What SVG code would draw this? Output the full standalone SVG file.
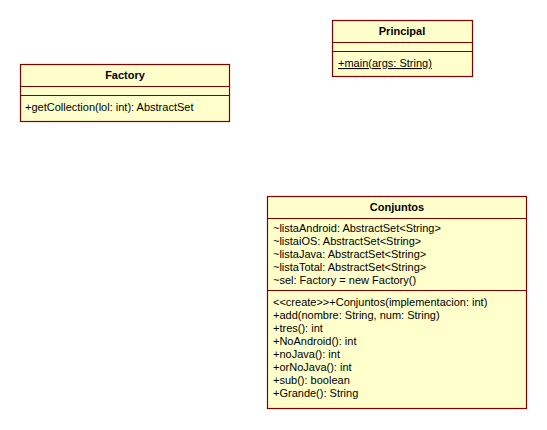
<svg xmlns="http://www.w3.org/2000/svg" width="547" height="430" viewBox="0 0 547 430">
  <style>
    .box { fill: #FFFFCC; stroke: #800000; stroke-width: 1.2; }
    .sep { stroke: #800000; stroke-width: 1.2; }
    .name { font-family: "Liberation Sans", Arial, sans-serif; font-size: 11px; font-weight: bold; fill: #000; text-anchor: middle; }
    .member { font-family: "Liberation Sans", Arial, sans-serif; font-size: 11px; fill: #000; }
    .static { text-decoration: underline; }
  </style>
  <rect width="547" height="430" fill="#FFFFFF"/>

  <g id="Factory">
    <rect class="box" x="20.5" y="64.5" width="209" height="57"/>
    <line class="sep" x1="20.5" y1="86.5" x2="229.5" y2="86.5"/>
    <line class="sep" x1="20.5" y1="95.5" x2="229.5" y2="95.5"/>
    <text class="name" x="125" y="79">Factory</text>
    <text class="member" x="25" y="111">+getCollection(lol: int): AbstractSet</text>
  </g>

  <g id="Principal">
    <rect class="box" x="332.5" y="20.5" width="140" height="56"/>
    <line class="sep" x1="332.5" y1="42.5" x2="472.5" y2="42.5"/>
    <line class="sep" x1="332.5" y1="51.5" x2="472.5" y2="51.5"/>
    <text class="name" x="402" y="35">Principal</text>
    <text class="member static" x="338" y="67">+main(args: String)</text>
  </g>

  <g id="Conjuntos">
    <rect class="box" x="267.5" y="196.5" width="259" height="212"/>
    <line class="sep" x1="267.5" y1="218.5" x2="526.5" y2="218.5"/>
    <line class="sep" x1="267.5" y1="290.5" x2="526.5" y2="290.5"/>
    <text class="name" x="397" y="211">Conjuntos</text>
    <text class="member" x="273" y="232">~listaAndroid: AbstractSet&lt;String&gt;</text>
    <text class="member" x="273" y="245">~listaiOS: AbstractSet&lt;String&gt;</text>
    <text class="member" x="273" y="258">~listaJava: AbstractSet&lt;String&gt;</text>
    <text class="member" x="273" y="271">~listaTotal: AbstractSet&lt;String&gt;</text>
    <text class="member" x="273" y="284">~sel: Factory = new Factory()</text>
    <text class="member" x="273" y="306">&lt;&lt;create&gt;&gt;+Conjuntos(implementacion: int)</text>
    <text class="member" x="273" y="319">+add(nombre: String, num: String)</text>
    <text class="member" x="273" y="332">+tres(): int</text>
    <text class="member" x="273" y="345">+NoAndroid(): int</text>
    <text class="member" x="273" y="358">+noJava(): int</text>
    <text class="member" x="273" y="371">+orNoJava(): int</text>
    <text class="member" x="273" y="384">+sub(): boolean</text>
    <text class="member" x="273" y="397">+Grande(): String</text>
  </g>

  <g id="connectors"></g>
</svg>
